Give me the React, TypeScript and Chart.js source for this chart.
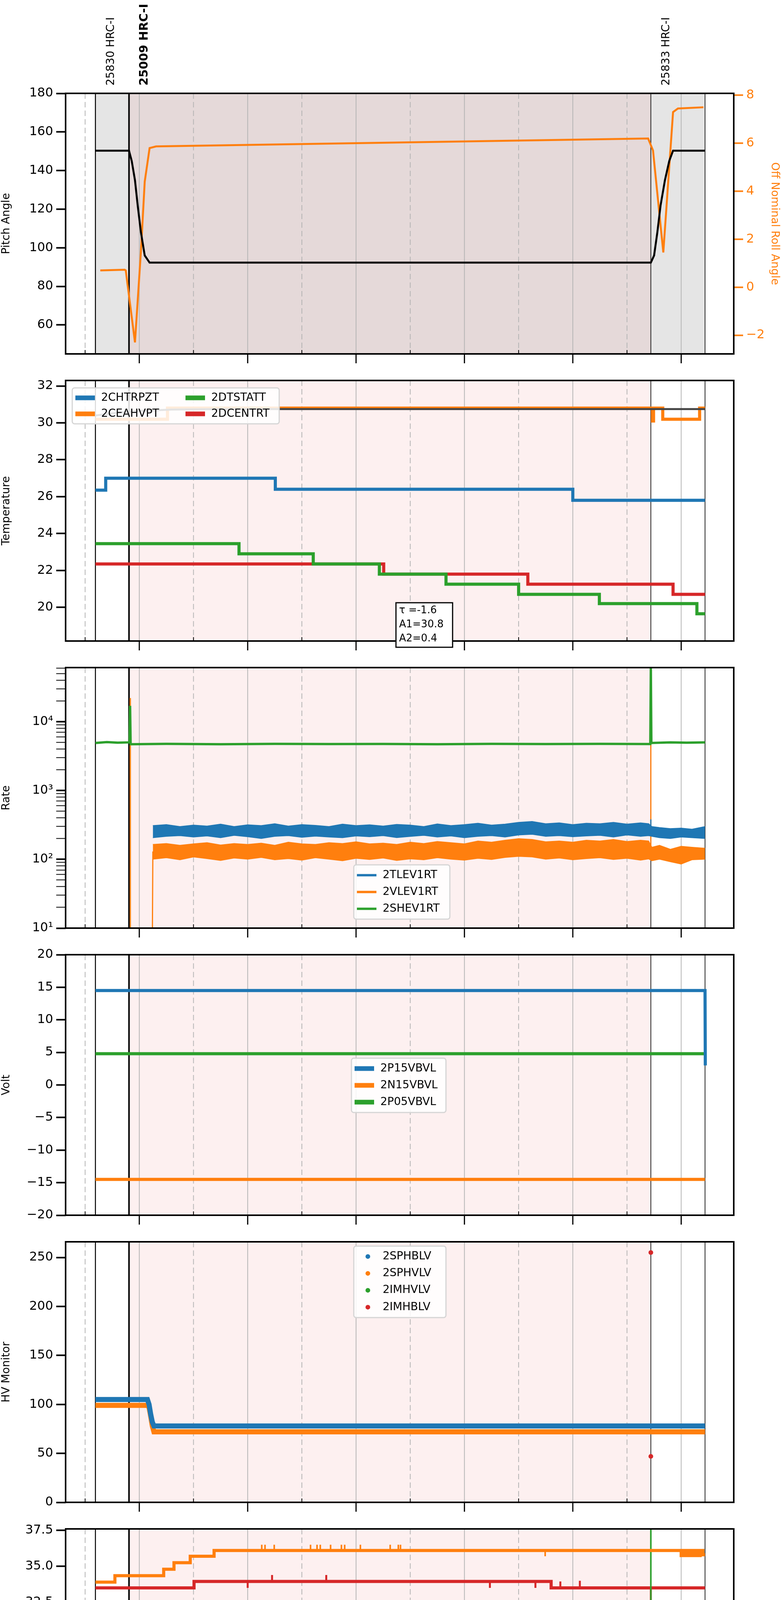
import React, { useEffect, useRef } from "react";
import { Chart, registerables } from "chart.js";
Chart.register(...registerables);
Chart.defaults.font.family = "DejaVu Sans";

const BLUE = "#1f77b4", ORANGE = "#ff7f0e", GREEN = "#2ca02c", RED = "#d62728";
const X_MIN = 10.64, X_MAX = 22.97;
const T_A = 11.19, T_B = 11.81, T_C = 21.44, T_END = 22.44;

const majorHours = [12, 14, 16, 18, 20, 22];
const majorLabels = ["12h", "14h", "16h", "18h", "20h", "22h"];
const minorHours = [11, 13, 15, 17, 19, 21];
const minorLabels = ["11h", "13h", "15h", "17h", "19h", "21h"];
const obsLabels = [
  { x: T_A, text: "25830 HRC-I", bold: false },
  { x: T_B, text: "25009 HRC-I", bold: true },
  { x: T_C, text: "25833 HRC-I", bold: false },
];

// Panel 1
const pitchT = [11.19, 11.81, 11.86, 11.92, 11.97, 12.03, 12.1, 12.19, 21.44, 21.5, 21.56, 21.62, 21.7, 21.78, 21.85, 22.44];
const pitchV = [150.3, 150.3, 145, 135, 122, 108, 96, 92.3, 92.3, 96, 108, 122, 135, 145, 150.3, 150.3];
const rollT = [11.28, 11.73, 11.75, 11.92, 12.03, 12.1, 12.19, 12.31, 21.39, 21.48, 21.67, 21.85, 21.94, 22.41];
const rollV = [0.7, 0.73, 0.7, -2.3, 1.5, 4.4, 5.8, 5.87, 6.2, 5.7, 1.45, 7.3, 7.45, 7.5];

// Panel 2
const chtT = [11.19, 11.38, 14.51, 20.0], chtV = [26.35, 27.0, 26.4, 25.8];
const ceaT = [11.19, 12.52, 21.47, 21.49, 21.66, 22.34], ceaV = [30.2, 30.8, 30.1, 30.8, 30.2, 30.8];
const dtsT = [11.19, 13.84, 15.21, 16.43, 17.66, 19.0, 20.49, 22.29], dtsV = [23.45, 22.9, 22.35, 21.8, 21.25, 20.7, 20.2, 19.65];
const dceT = [11.19, 16.51, 19.17, 21.85], dceV = [22.35, 21.8, 21.25, 20.7];
const fitT = [11.19, 11.6, 12.0, 12.6, 13.5, 22.44], fitV = [30.4, 30.55, 30.65, 30.72, 30.75, 30.75];

// Panel 3 (rates)
const rateT = [12.25, 12.5, 12.75, 13, 13.25, 13.5, 13.75, 14, 14.25, 14.5, 14.75, 15, 15.25, 15.5, 15.75, 16, 16.25, 16.5, 16.75, 17, 17.25, 17.5, 17.75, 18, 18.25, 18.5, 18.75, 19, 19.25, 19.5, 19.75, 20, 20.25, 20.5, 20.75, 21, 21.25, 21.4, 21.46, 21.6, 21.8, 22.0, 22.2, 22.44];
const tlevHi = [310, 320, 300, 315, 305, 325, 300, 318, 310, 330, 305, 320, 312, 300, 325, 310, 318, 305, 322, 315, 300, 328, 310, 320, 335, 315, 325, 345, 355, 330, 340, 320, 335, 330, 345, 325, 340, 330, 300, 290, 280, 285, 275, 300];
const tlevLo = [205, 215, 220, 210, 218, 205, 222, 212, 200, 215, 220, 208, 216, 210, 205, 218, 212, 220, 206, 214, 222, 210, 218, 205, 215, 220, 210, 225, 230, 215, 220, 212, 218, 222, 210, 225, 215, 220, 215, 205, 200, 210, 205, 200];
const vlevHi = [165, 170, 160, 168, 175, 162, 170, 165, 172, 160, 178, 168, 165, 175, 170, 180, 168, 172, 165, 178, 170, 182, 175, 168, 185, 178, 190, 200, 195, 180, 185, 178, 190, 185, 195, 182, 190, 185, 150, 160, 140, 155, 150, 145];
const vlevLo = [100, 105, 98, 108, 102, 96, 104, 100, 106, 98, 102, 97, 105, 100, 95, 103, 99, 104, 96, 101, 98, 105, 100, 97, 103, 99, 106, 110, 108, 100, 104, 98, 102, 105, 99, 103, 97, 101, 95, 100, 92, 85, 98, 100];
const vlevStartT = [11.83, 11.835, 12.24, 12.25], vlevStartV = [22000, 5, 5, 130];
const shevT = [11.19, 11.4, 11.6, 11.82, 11.83, 11.84, 12.5, 13.5, 14.5, 15.5, 16.5, 17.5, 18.5, 19.5, 20.5, 21.43, 21.44, 21.45, 21.8, 22.1, 22.44];
const shevV = [4900, 5050, 4950, 5000, 17000, 4700, 4750, 4700, 4760, 4720, 4740, 4700, 4750, 4720, 4760, 4730, 65000, 4900, 5000, 4950, 5000];
const rateSpikeT = [21.44], tlevSpike = [380], vlevSpike = [4700];

// Panel 4
const p15T = [11.19, 22.44, 22.445], p15V = [14.5, 14.5, 3];
const n15T = [11.19, 22.44], n15V = [-14.5, -14.5];
const p05T = [11.19, 22.44], p05V = [4.8, 4.8];

// Panel 5
const sphbT = [11.19, 12.15, 12.18, 12.21, 12.24, 12.27, 22.44], sphbV = [105, 105, 100, 90, 82, 78, 78];
const sphvT = [11.19, 12.15, 12.18, 12.21, 12.24, 12.27, 22.44], sphvV = [99, 99, 97, 88, 78, 72, 72];
const imhbT = [21.44, 21.44], imhbV = [255, 47];

// Panel 6
const spinT = [11.19, 11.36, 12.47, 17.47, 17.5, 17.55, 17.6, 17.66, 21.96], spinV = [21.7, 21.0, 21.7, 21.0, 21.7, 21.0, 21.7, 21.0, 20.3];
const spinSpT = [17.12, 17.84], spinSpV = [21.0, 21.0];
const sphatT = [11.19, 11.55, 12.45, 12.64, 12.94, 13.38, 22.0, 22.05, 22.1, 22.15, 22.2, 22.25, 22.3, 22.35, 22.4];
const sphatV = [33.9, 34.35, 34.8, 35.25, 35.7, 36.1, 35.75, 36.1, 35.75, 36.1, 35.75, 36.1, 35.75, 36.1, 35.8];
const sphatSpT = [14.26, 14.32, 14.49, 15.16, 15.28, 15.34, 15.53, 15.73, 15.79, 16.08, 16.63, 16.78, 16.82, 19.49];
const sphatSpV = [36.5, 36.5, 36.5, 36.5, 36.5, 36.5, 36.5, 36.5, 36.5, 36.5, 36.5, 36.5, 36.5, 35.7];
const iminT = [11.19, 13.72, 16.59, 18.97, 21.69], iminV = [23.1, 22.45, 21.7, 21.0, 20.3];
const iminSpT = [11.25, 11.32, 11.42, 11.5, 11.55, 11.62, 11.68, 11.75, 11.8, 12.05, 21.05, 21.44];
const iminSpV = [22.5, 22.5, 22.5, 22.5, 22.5, 22.5, 22.5, 22.5, 22.5, 22.5, 20.3, 40];
const imhvT = [11.19, 13.01, 19.6], imhvV = [33.5, 33.95, 33.5];
const imhvSpT = [14.0, 14.45, 15.45, 18.47, 19.31, 19.77, 20.13, 21.44];
const imhvSpV = [33.5, 34.4, 34.4, 33.5, 33.5, 33.95, 34.0, 15];

// Panel 7
const fhtT = [11.19, 12.75, 13.47, 14.23, 15.02, 15.83, 16.71, 17.69, 18.72, 19.93, 21.34, 22.31];
const fhtV = [26.4, 25.8, 25.2, 24.6, 24.05, 23.45, 22.9, 22.35, 21.8, 21.25, 20.7, 21.25];
const fradT = [11.19, 12.25, 12.52, 12.92, 13.44, 14.06, 14.75, 15.48, 16.25, 17.08, 18.01, 19.05, 20.27, 21.99];
const fradV = [21.8, 21.25, 20.7, 20.2, 19.7, 19.15, 18.65, 18.15, 17.65, 17.15, 16.65, 16.2, 15.7, 16.2];
const fepT = [11.19, 12.92, 14.14, 15.31, 16.6, 18.03, 19.72], fepV = [27.9, 27.0, 26.2, 25.4, 24.65, 23.9, 23.1];
const fepSpT = [21.95, 22.02, 22.08, 22.12], fepSpV = [22.4, 22.4, 22.4, 22.4];
const feoT = [11.19, 12.77, 13.38, 13.86, 14.46, 15.02, 15.57, 16.23, 16.9, 17.58, 18.32, 19.17, 20.1, 21.07];
const feoV = [25.3, 24.95, 24.6, 24.3, 24.0, 23.6, 23.3, 23.0, 22.6, 22.3, 22.0, 21.7, 21.4, 21.1];
const feoSpT = [12.04, 12.1, 12.36, 12.73, 13.32, 13.54, 13.82, 13.94, 14.54, 14.82, 14.94, 15.32, 15.37, 15.64, 15.94, 15.99, 16.45, 16.47, 16.78, 17.06, 17.18, 17.41, 17.84, 17.87, 18.07, 18.21, 18.23, 18.47, 19.14, 19.32, 19.56, 20.34, 20.62, 20.79, 20.82, 20.99, 21.36, 21.44, 21.441];
const feoSpV = [25.65, 25.65, 25.65, 26.05, 23.9, 25.0, 23.9, 25.65, 24.65, 23.3, 23.6, 21.7, 23.3, 24.35, 23.65, 22.6, 22.6, 23.3, 22.6, 21.7, 22.0, 23.65, 21.35, 23.35, 21.35, 23.0, 21.1, 20.45, 21.35, 22.05, 21.35, 22.05, 20.45, 20.45, 21.8, 22.4, 20.45, 30, 10];

type P = { x: number; y: number | null };
function line(t: number[], v: number[]): P[] { return t.map((x, i) => ({ x, y: v[i] })); }
function steps(t: number[], v: number[], end = T_END): P[] {
  const p: P[] = [];
  t.forEach((x, i) => { p.push({ x, y: v[i] }); p.push({ x: i + 1 < t.length ? t[i + 1] : end, y: v[i] }); });
  return p;
}
function valueAt(t: number[], v: number[], x: number) { let r = v[0]; t.forEach((tt, i) => { if (tt <= x) r = v[i]; }); return r; }
function spikes(st: number[], sv: number[], bt: number[], bv: number[]): P[] {
  const p: P[] = [];
  st.forEach((x, i) => { const b = valueAt(bt, bv, x); p.push({ x, y: b }, { x, y: sv[i] }, { x, y: null }); });
  return p;
}

const TOP0 = 239, STEP = 735, PH = 667;

function ds(data: P[], color: string, w: number, extra: any = {}) {
  return { data, borderColor: color, backgroundColor: color, borderWidth: w, pointRadius: 0, fill: false, ...extra };
}

function panels(): any[] {
  return [
    {
      datasets: [
        ds(line(pitchT, pitchV), "#000", 5),
        ds(line(rollT, rollV), ORANGE, 5, { yAxisID: "y2" }),
      ],
      y: { min: 45, max: 180, ticks: [60, 80, 100, 120, 140, 160, 180], title: "Pitch Angle" },
      y2: { min: -2.78, max: 8.08, ticks: [-2, 0, 2, 4, 6, 8], title: "Off Nominal Roll Angle" },
      top: true,
    },
    {
      datasets: [
        ds(line(fitT, fitV), "#444", 5),
        ds(steps(chtT, chtV), BLUE, 8),
        ds(steps(ceaT, ceaV), ORANGE, 8),
        ds(steps(dtsT, dtsV), GREEN, 8),
        ds(steps(dceT, dceV), RED, 8),
      ],
      y: { min: 18.17, max: 32.3, ticks: [20, 22, 24, 26, 28, 30, 32], title: "Temperature" },
      legend: { items: [{ label: "2CHTRPZT", color: BLUE }, { label: "2CEAHVPT", color: ORANGE }, { label: "2DTSTATT", color: GREEN }, { label: "2DCENTRT", color: RED }], x: 17, y: 19, w: 530, h: 92, cols: 2, colW: 282 },
      tau: { x: 846, y: 569, w: 145, h: 114, lines: ["τ =-1.6", "A1=30.8", "A2=0.4"] },
    },
    {
      datasets: [
        ds(line(shevT, shevV), GREEN, 6),
        ds(line(rateT, tlevLo), BLUE, 1.5),
        ds(line(rateT, tlevHi), BLUE, 1.5, { fill: "-1", backgroundColor: BLUE }),
        ds(line(vlevStartT, vlevStartV), ORANGE, 3),
        ds(line(rateT, vlevLo), ORANGE, 1.5),
        ds(line(rateT, vlevHi), ORANGE, 1.5, { fill: "-1", backgroundColor: ORANGE }),
        ds(spikes(rateSpikeT, tlevSpike, rateT, tlevLo), BLUE, 3),
        ds(spikes(rateSpikeT, vlevSpike, rateT, vlevLo), ORANGE, 3),
      ],
      y: { type: "logarithmic", min: 10, max: 61000, ticks: [10, 20, 30, 40, 50, 60, 70, 80, 90, 100, 200, 300, 400, 500, 600, 700, 800, 900, 1000, 2000, 3000, 4000, 5000, 6000, 7000, 8000, 9000, 10000, 20000, 30000, 40000, 50000, 60000], title: "Rate" },
      legend: { items: [{ label: "2TLEV1RT", color: BLUE }, { label: "2VLEV1RT", color: ORANGE }, { label: "2SHEV1RT", color: GREEN }], x: 738, y: 505, w: 246, h: 139, cols: 1, thin: true },
    },
    {
      datasets: [
        ds(line(p15T, p15V), BLUE, 8),
        ds(line(n15T, n15V), ORANGE, 8),
        ds(line(p05T, p05V), GREEN, 8),
      ],
      y: { min: -20, max: 20, ticks: [-20, -15, -10, -5, 0, 5, 10, 15, 20], title: "Volt" },
      legend: { items: [{ label: "2P15VBVL", color: BLUE }, { label: "2N15VBVL", color: ORANGE }, { label: "2P05VBVL", color: GREEN }], x: 732, y: 265, w: 242, h: 139, cols: 1 },
    },
    {
      datasets: [
        ds(line(sphbT, sphbV), BLUE, 13),
        ds(line(sphvT, sphvV), ORANGE, 13),
        ds(line(imhbT, imhbV), RED, 0, { showLine: false, pointRadius: 6, pointBorderWidth: 0 }),
      ],
      y: { min: 0, max: 266, ticks: [0, 50, 100, 150, 200, 250], title: "HV Monitor" },
      legend: { items: [{ label: "2SPHBLV", color: BLUE }, { label: "2SPHVLV", color: ORANGE }, { label: "2IMHVLV", color: GREEN }, { label: "2IMHBLV", color: RED }], x: 738, y: 11, w: 236, h: 183, cols: 1, dot: true },
    },
    {
      datasets: [
        ds(steps(spinT, spinV), BLUE, 8),
        ds(spikes(spinSpT, spinSpV, spinT, spinV), BLUE, 4),
        ds(steps(sphatT, sphatV), ORANGE, 8),
        ds(spikes(sphatSpT, sphatSpV, sphatT, sphatV), ORANGE, 4),
        ds(steps(iminT, iminV), GREEN, 8),
        ds(spikes(iminSpT, iminSpV, iminT, iminV), GREEN, 4),
        ds(steps(imhvT, imhvV), RED, 8),
        ds(spikes(imhvSpT, imhvSpV, imhvT, imhvV), RED, 5),
      ],
      y: { min: 19.5, max: 37.6, ticks: [20, 22.5, 25, 27.5, 30, 32.5, 35, 37.5], title: "Detector Temp", fmt: (v: number) => v.toFixed(1) },
      legend: { items: [{ label: "2SPINATM", color: BLUE }, { label: "2SPHVATM", color: ORANGE }, { label: "2IMINATM", color: GREEN }, { label: "2IMHVATM", color: RED }], x: 732, y: 335, w: 242, h: 183, cols: 1 },
    },
    {
      datasets: [
        ds(steps(fhtT, fhtV), BLUE, 8),
        ds(steps(fradT, fradV), ORANGE, 8),
        ds(steps(fepT, fepV), GREEN, 8),
        ds(spikes(fepSpT, fepSpV, fepT, fepV), GREEN, 5),
        ds(steps(feoT, feoV), RED, 8),
        ds(spikes(feoSpT, feoSpV, feoT, feoV), RED, 5),
      ],
      y: { min: 14.69, max: 27.67, ticks: [16, 18, 20, 22, 24, 26], title: "FEA Temp" },
      legend: { items: [{ label: "2FHTRMZT", color: BLUE }, { label: "2FRADPYT", color: ORANGE }, { label: "2FEPRATM", color: GREEN }, { label: "2FE00ATM", color: RED }], x: 15, y: 440, w: 253, h: 183, cols: 1 },
      last: true,
    },
  ];
}

const SUP: Record<string, string> = { "0": "⁰", "1": "¹", "2": "²", "3": "³", "4": "⁴", "5": "⁵" };

function yScale(c: any, position: string, color: string, width: number) {
  const isLog = c.type === "logarithmic";
  return {
    type: c.type || "linear",
    position,
    min: c.min,
    max: c.max,
    afterFit(s: any) { s.width = width; },
    afterBuildTicks(s: any) { s.ticks = c.ticks.map((v: number) => ({ value: v })); },
    ticks: {
      color,
      font: { size: 32 },
      padding: 8,
      autoSkip: false,
      callback(v: number) {
        if (isLog) {
          const e = Math.log10(v);
          return Math.abs(e - Math.round(e)) < 1e-9 ? "10" + SUP[String(Math.round(e))] : "";
        }
        const s = c.fmt ? c.fmt(v) : String(v);
        return s.replace("-", "\u2212");
      },
    },
    grid: {
      display: true, drawOnChartArea: false, drawTicks: true, tickLength: 24, tickColor: color,
      tickWidth: (ctx: any) => {
        if (!isLog) return 4;
        const e = Math.log10(ctx.tick.value);
        return Math.abs(e - Math.round(e)) < 1e-9 ? 4 : 2;
      },
    },
    border: { display: false },
    title: { display: true, text: c.title, color, font: { size: 28 }, padding: { top: 0, bottom: 6 } },
  };
}

function makePlugin(p: any) {
  return {
    id: "deco",
    beforeDatasetsDraw(chart: any) {
      const { ctx, chartArea: a, scales } = chart;
      const xs = scales.x;
      const px = (v: number) => xs.getPixelForValue(v);
      ctx.save();
      if (p.top) {
        ctx.fillStyle = "#e5e5e5";
        ctx.fillRect(px(T_A), a.top, px(T_B) - px(T_A), a.height);
        ctx.fillRect(px(T_C), a.top, px(T_END) - px(T_C), a.height);
        ctx.fillStyle = "#e5d9d9";
        ctx.fillRect(px(T_B), a.top, px(T_C) - px(T_B), a.height);
      } else {
        ctx.fillStyle = "#fdf0f0";
        ctx.fillRect(px(T_B), a.top, px(T_C) - px(T_B), a.height);
      }
      ctx.strokeStyle = "#b5b5b5";
      ctx.lineWidth = 2;
      for (let h = 11; h <= 22; h++) {
        ctx.setLineDash(h % 2 ? [14, 8] : []);
        ctx.beginPath(); ctx.moveTo(px(h), a.top); ctx.lineTo(px(h), a.bottom); ctx.stroke();
      }
      ctx.setLineDash([]);
      const vl = [[T_A, "#000", 2.5], [T_B, "#000", 4], [T_C, "#222", 2], [T_END, "#222", 2]];
      vl.forEach(([v, c, w]: any) => { ctx.strokeStyle = c; ctx.lineWidth = w; ctx.beginPath(); ctx.moveTo(px(v), a.top); ctx.lineTo(px(v), a.bottom); ctx.stroke(); });
      ctx.restore();
    },
    afterDraw(chart: any) {
      const { ctx, chartArea: a, scales } = chart;
      const xs = scales.x;
      const px = (v: number) => xs.getPixelForValue(v);
      ctx.save();
      ctx.strokeStyle = "#000"; ctx.lineWidth = 4;
      ctx.strokeRect(a.left, a.top, a.width, a.height);
      ctx.lineWidth = 3;
      majorHours.forEach((h) => { ctx.beginPath(); ctx.moveTo(px(h), a.bottom); ctx.lineTo(px(h), a.bottom + 24); ctx.stroke(); });
      ctx.lineWidth = 2;
      minorHours.forEach((h) => { ctx.beginPath(); ctx.moveTo(px(h), a.bottom); ctx.lineTo(px(h), a.bottom - 10); ctx.stroke(); });
      ctx.fillStyle = "#000";
      if (p.last) {
        ctx.textAlign = "center"; ctx.textBaseline = "middle";
        ctx.font = "18px 'DejaVu Sans'";
        minorHours.forEach((h, i) => ctx.fillText(minorLabels[i], px(h), a.bottom + 18));
        ctx.font = "32px 'DejaVu Sans'";
        majorHours.forEach((h, i) => ctx.fillText(majorLabels[i], px(h), a.bottom + 50));
        ctx.font = "34px 'DejaVu Sans'";
        ctx.fillText("2021-11-23 (327)", (a.left + a.right) / 2, a.bottom + 86);
      }
      if (p.top) {
        obsLabels.forEach((o) => {
          ctx.save();
          ctx.translate(px(o.x) + 40, a.top - 20);
          ctx.rotate(-Math.PI / 2);
          ctx.font = (o.bold ? "bold 30px" : "28px") + " 'DejaVu Sans'";
          ctx.textAlign = "left"; ctx.textBaseline = "middle";
          ctx.fillText(o.text, 0, 0);
          ctx.restore();
        });
      }
      const L: any = p.legend;
      if (L) {
        const x0 = a.left + L.x, y0 = a.top + L.y;
        ctx.fillStyle = "rgba(255,255,255,0.85)";
        ctx.strokeStyle = "#d5d5d5"; ctx.lineWidth = 3;
        ctx.beginPath(); ctx.roundRect(x0, y0, L.w, L.h, 6); ctx.fill(); ctx.stroke();
        const rows = Math.ceil(L.items.length / L.cols);
        const rowH = (L.h - 10) / rows;
        ctx.font = "28px 'DejaVu Sans'"; ctx.textAlign = "left"; ctx.textBaseline = "middle";
        L.items.forEach((it: any, i: number) => {
          const col = Math.floor(i / rows), row = i % rows;
          const ix = x0 + 8 + col * (L.colW || 0), iy = y0 + 5 + rowH * (row + 0.5);
          ctx.fillStyle = it.color;
          if (L.dot) { ctx.beginPath(); ctx.arc(ix + 28, iy, 6, 0, Math.PI * 2); ctx.fill(); }
          else if (L.thin) ctx.fillRect(ix, iy - 3, 50, 6);
          else ctx.fillRect(ix, iy - 6, 50, 12);
          ctx.fillStyle = "#000";
          ctx.fillText(it.label, ix + 66, iy);
        });
      }
      const tb: any = p.tau;
      if (tb) {
        const x0 = a.left + tb.x, y0 = a.top + tb.y;
        ctx.fillStyle = "#fff"; ctx.fillRect(x0, y0, tb.w, tb.h);
        ctx.strokeStyle = "#000"; ctx.lineWidth = 3; ctx.strokeRect(x0, y0, tb.w, tb.h);
        ctx.fillStyle = "#000"; ctx.font = "26px 'DejaVu Sans'"; ctx.textAlign = "left"; ctx.textBaseline = "middle";
        tb.lines.forEach((s: string, i: number) => ctx.fillText(s, x0 + 8, y0 + 20 + i * 36));
      }
      ctx.restore();
    },
  };
}

export default function App() {
  const refs = useRef<(HTMLCanvasElement | null)[]>([]);
  const P = panels();
  const geo = P.map((_, i) => {
    const T = TOP0 + STEP * i;
    const canvasTop = i === 0 ? 0 : T - 40;
    const padTop = T - canvasTop;
    const h = i === 6 ? 5400 - canvasTop : padTop + PH + 68;
    const xH = h - padTop - PH;
    return { canvasTop, padTop, h, xH };
  });
  useEffect(() => {
    const charts = P.map((p, i) => {
      const g = geo[i];
      const scalesCfg: any = {
        x: {
          type: "linear", min: X_MIN, max: X_MAX,
          afterFit(s: any) { s.height = g.xH; },
          ticks: { display: false }, grid: { display: false }, border: { display: false },
        },
        y: yScale(p.y, "left", "#000", 168),
      };
      if (p.y2) scalesCfg.y2 = yScale(p.y2, "right", ORANGE, 121);
      return new Chart(refs.current[i]!, {
        type: "line",
        data: { datasets: p.datasets },
        options: {
          animation: false, responsive: false, devicePixelRatio: 1,
          layout: { padding: { top: g.padTop, right: p.y2 ? 0 : 121, left: 0, bottom: 0 } },
          plugins: { legend: { display: false }, tooltip: { enabled: false } },
          scales: scalesCfg,
        },
        plugins: [makePlugin(p)],
      } as any);
    });
    return () => charts.forEach((c) => c.destroy());
  }, []);
  return (
    <div style={{ position: "absolute", left: 0, top: 0, width: 2000, height: 5400, background: "#fff" }}>
      {geo.map((g, i) => (
        <canvas key={i} ref={(el) => { refs.current[i] = el; }} width={2000} height={g.h}
          style={{ position: "absolute", left: 0, top: g.canvasTop, width: 2000, height: g.h }} />
      ))}
    </div>
  );
}
